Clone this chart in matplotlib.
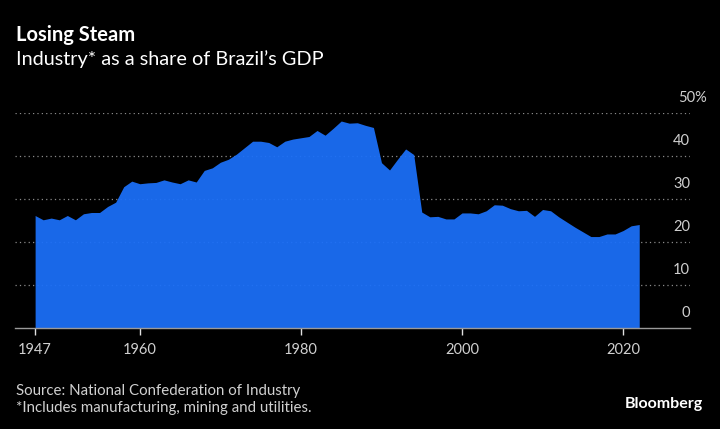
import numpy as np
import matplotlib
matplotlib.use('Agg')
import matplotlib.pyplot as plt

# Industry share of Brazil's GDP, %
years = list(range(1947, 2023))
share = [26.2, 25.2, 25.6, 25.2, 26.2, 25.2, 26.6, 26.9, 26.9, 28.3,
         29.3, 32.9, 34.2, 33.6, 33.8, 33.9, 34.5, 34.0, 33.6, 34.5,
         34.0, 36.7, 37.3, 38.6, 39.3, 40.5, 42.0, 43.5, 43.5, 43.2,
         42.2, 43.5, 44.0, 44.3, 44.6, 46.0, 44.9, 46.5, 48.2, 47.7,
         47.8, 47.2, 46.7, 38.5, 36.8, 39.3, 41.7, 40.4, 27.0, 25.9,
         26.0, 25.4, 25.4, 26.8, 26.8, 26.6, 27.3, 28.7, 28.6, 27.8,
         27.3, 27.4, 26.0, 27.6, 27.3, 25.9, 24.7, 23.5, 22.4, 21.3,
         21.3, 21.9, 21.9, 22.7, 23.8, 24.1]

x_ticks = [1947, 1960, 1980, 2000, 2020]
y_ticks = [0, 10, 20, 30, 40, 50]
y_labels = ['0', '10', '20', '30', '40', '50%']

plt.rcParams['font.family'] = ['Lato', 'DejaVu Sans']

fig = plt.figure(figsize=(7.2, 4.29), dpi=100, facecolor='black')
ax = fig.add_axes([0.0208, 0.2354, 0.9375, 0.5005], facecolor='black')

ax.fill_between(years, share, 0, color='#1b6ff8', alpha=0.94, lw=0, zorder=2)

ax.set_xlim(1944.5, 2028.3)
ax.set_ylim(0, 50)

# dotted gridlines with labels sitting on top, right aligned
for v, lab in zip(y_ticks, y_labels):
    if v > 0:
        ax.axhline(v, color='#8a8a8a', lw=0.9, ls=(0, (1, 2.5)), zorder=1)
    dx = 12 if lab.endswith('%') else 0
    ax.annotate(lab, (1, v), xycoords=('axes fraction', 'data'),
                xytext=(dx, 6), textcoords='offset points',
                ha='right', va='bottom', color='#d0d0d0', fontsize=10.5,
                annotation_clip=False)

for s in ['top', 'right', 'left']:
    ax.spines[s].set_visible(False)
ax.spines['bottom'].set_color('#9a9a9a')
ax.spines['bottom'].set_linewidth(1)

ax.set_yticks([])
ax.set_xticks(x_ticks)
ax.set_xticklabels([str(y) for y in x_ticks])
ax.tick_params(axis='x', colors='#e0e0e0', length=5, width=1, pad=6,
               labelsize=10.5, labelcolor='#d0d0d0')

fig.text(0.022, 0.905, 'Losing Steam', color='white', fontsize=14.5,
         fontweight='bold')
fig.text(0.022, 0.848, 'Industry* as a share of Brazil\u2019s GDP', color='white',
         fontsize=14.3)

fig.text(0.022, 0.04, 'Source: National Confederation of Industry\n'
         '*Includes manufacturing, mining and utilities.',
         color='#d0d0d0', fontsize=10.8, linespacing=1.3)
fig.text(0.976, 0.05, 'Bloomberg', color='white', fontsize=11.5,
         fontweight='bold', ha='right')

fig.savefig('out.png', dpi=100, facecolor='black')
